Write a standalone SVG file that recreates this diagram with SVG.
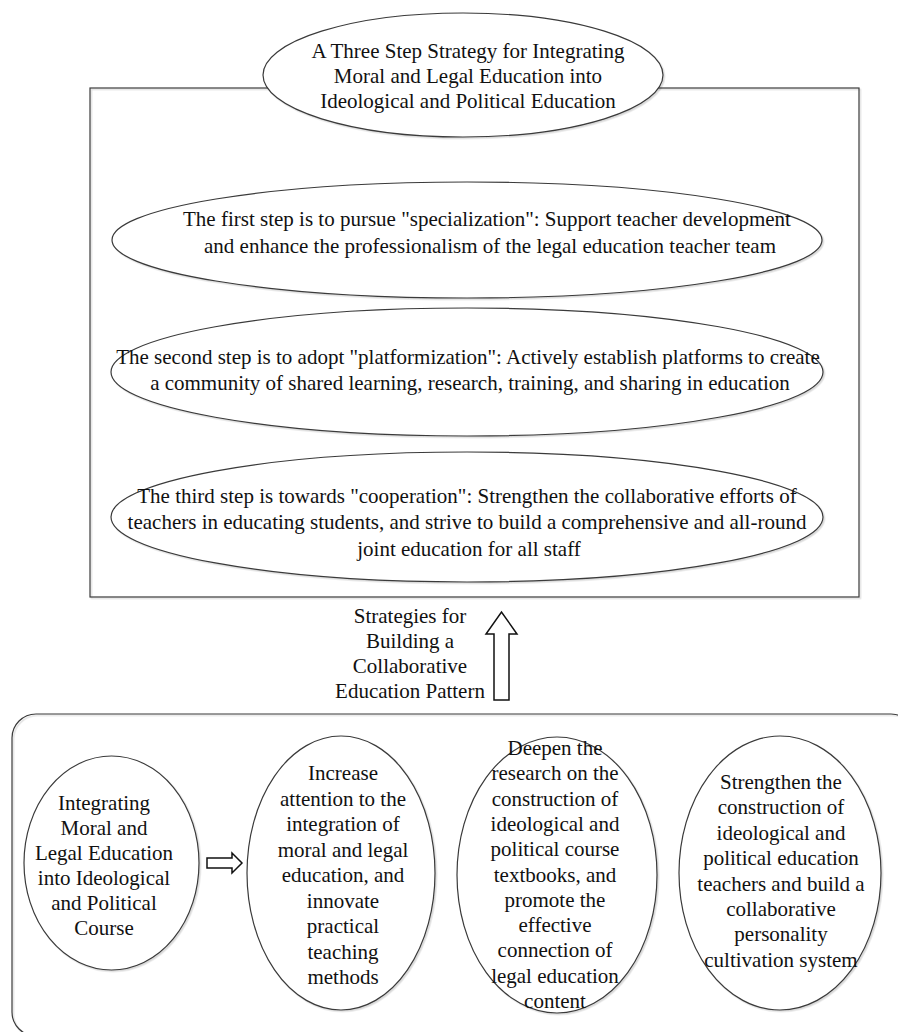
<svg xmlns="http://www.w3.org/2000/svg" width="898" height="1032" viewBox="0 0 898 1032">
<defs>
<filter id="sh" x="-5%" y="-5%" width="115%" height="115%">
<feDropShadow dx="1.5" dy="1.5" stdDeviation="0.6" flood-color="#000" flood-opacity="0.15"/>
</filter>
</defs>
<style>
.shape{fill:#fff;stroke:#3a3a3a;stroke-width:1.2}
.frame{fill:none;stroke:#3a3a3a;stroke-width:1.2}
.arrow{fill:#fff;stroke:#111;stroke-width:1.5;stroke-linejoin:miter}
text{font-family:"Liberation Serif","Times New Roman",serif;font-size:21px;fill:#111;text-anchor:middle}
</style>
<rect fill="#fff" width="898" height="1032"/>

<g id="frame-top"><rect class="frame" filter="url(#sh)" x="90" y="88" width="769" height="509"/></g>
<g id="frame-bottom"><rect class="frame" filter="url(#sh)" x="12" y="714" width="903" height="322" rx="24" ry="24"/></g>

<g id="title" font-family="Liberation Serif, Times New Roman, serif">
<ellipse class="shape" filter="url(#sh)" cx="463" cy="75" rx="200" ry="62"/>
<text x="468" y="58">A Three Step Strategy for Integrating</text>
<text x="468" y="83">Moral and Legal Education into</text>
<text x="468" y="108">Ideological and Political Education</text>
</g>

<g id="step1" font-family="Liberation Serif, Times New Roman, serif">
<ellipse class="shape" filter="url(#sh)" cx="467" cy="240" rx="355" ry="58"/>
<text x="487" y="226">The first step is to pursue "specialization": Support teacher development</text>
<text x="490" y="253">and enhance the professionalism of the legal education teacher team</text>
</g>

<g id="step2" font-family="Liberation Serif, Times New Roman, serif">
<ellipse class="shape" filter="url(#sh)" cx="467" cy="372" rx="356" ry="64"/>
<text x="468" y="364">The second step is to adopt "platformization": Actively establish platforms to create</text>
<text x="470" y="390">a community of shared learning, research, training, and sharing in education</text>
</g>

<g id="step3" font-family="Liberation Serif, Times New Roman, serif">
<ellipse class="shape" filter="url(#sh)" cx="467" cy="517" rx="356" ry="65"/>
<text x="467" y="503">The third step is towards "cooperation": Strengthen the collaborative efforts of</text>
<text x="467" y="529">teachers in educating students, and strive to build a comprehensive and all-round</text>
<text x="469" y="556">joint education for all staff</text>
</g>

<g id="strategy-label" font-family="Liberation Serif, Times New Roman, serif">
<text x="410" y="623">Strategies for</text>
<text x="410" y="648">Building a</text>
<text x="410" y="673">Collaborative</text>
<text x="410" y="698">Education Pattern</text>
</g>

<g id="course" font-family="Liberation Serif, Times New Roman, serif">
<ellipse class="shape" filter="url(#sh)" cx="111.5" cy="863" rx="87.5" ry="107"/>
<text x="104" y="810">Integrating</text>
<text x="104" y="835">Moral and</text>
<text x="104" y="860">Legal Education</text>
<text x="104" y="885">into Ideological</text>
<text x="104" y="910">and Political</text>
<text x="104" y="935">Course</text>
</g>

<g id="measure1" font-family="Liberation Serif, Times New Roman, serif">
<ellipse class="shape" filter="url(#sh)" cx="341" cy="873" rx="94" ry="137"/>
<text x="343" y="780">Increase</text>
<text x="343" y="805.5">attention to the</text>
<text x="343" y="831">integration of</text>
<text x="343" y="856.5">moral and legal</text>
<text x="343" y="882">education, and</text>
<text x="343" y="907.5">innovate</text>
<text x="343" y="933">practical</text>
<text x="343" y="958.5">teaching</text>
<text x="343" y="984">methods</text>
</g>

<g id="measure2" font-family="Liberation Serif, Times New Roman, serif">
<ellipse class="shape" filter="url(#sh)" cx="557" cy="875" rx="100" ry="138"/>
<text x="555" y="755">Deepen the</text>
<text x="555" y="780.3">research on the</text>
<text x="555" y="805.6">construction of</text>
<text x="555" y="830.9">ideological and</text>
<text x="555" y="856.2">political course</text>
<text x="555" y="881.5">textbooks, and</text>
<text x="555" y="906.8">promote the</text>
<text x="555" y="932.1">effective</text>
<text x="555" y="957.4">connection of</text>
<text x="555" y="982.7">legal education</text>
<text x="555" y="1008">content</text>
</g>

<g id="measure3" font-family="Liberation Serif, Times New Roman, serif">
<ellipse class="shape" filter="url(#sh)" cx="780" cy="873" rx="101" ry="137"/>
<text x="781" y="789">Strengthen the</text>
<text x="781" y="814.4">construction of</text>
<text x="781" y="839.8">ideological and</text>
<text x="781" y="865.2">political education</text>
<text x="781" y="890.6">teachers and build a</text>
<text x="781" y="916">collaborative</text>
<text x="781" y="941.4">personality</text>
<text x="781" y="966.8">cultivation system</text>
</g>

<g id="connectors">
<polygon class="arrow" points="494,700 509,700 509,634 517,634 501.5,612 486,634 494,634"/>
<polygon class="arrow" points="207,858 232,858 232,853 242,863 232,873 232,868 207,868"/>
</g>
</svg>
